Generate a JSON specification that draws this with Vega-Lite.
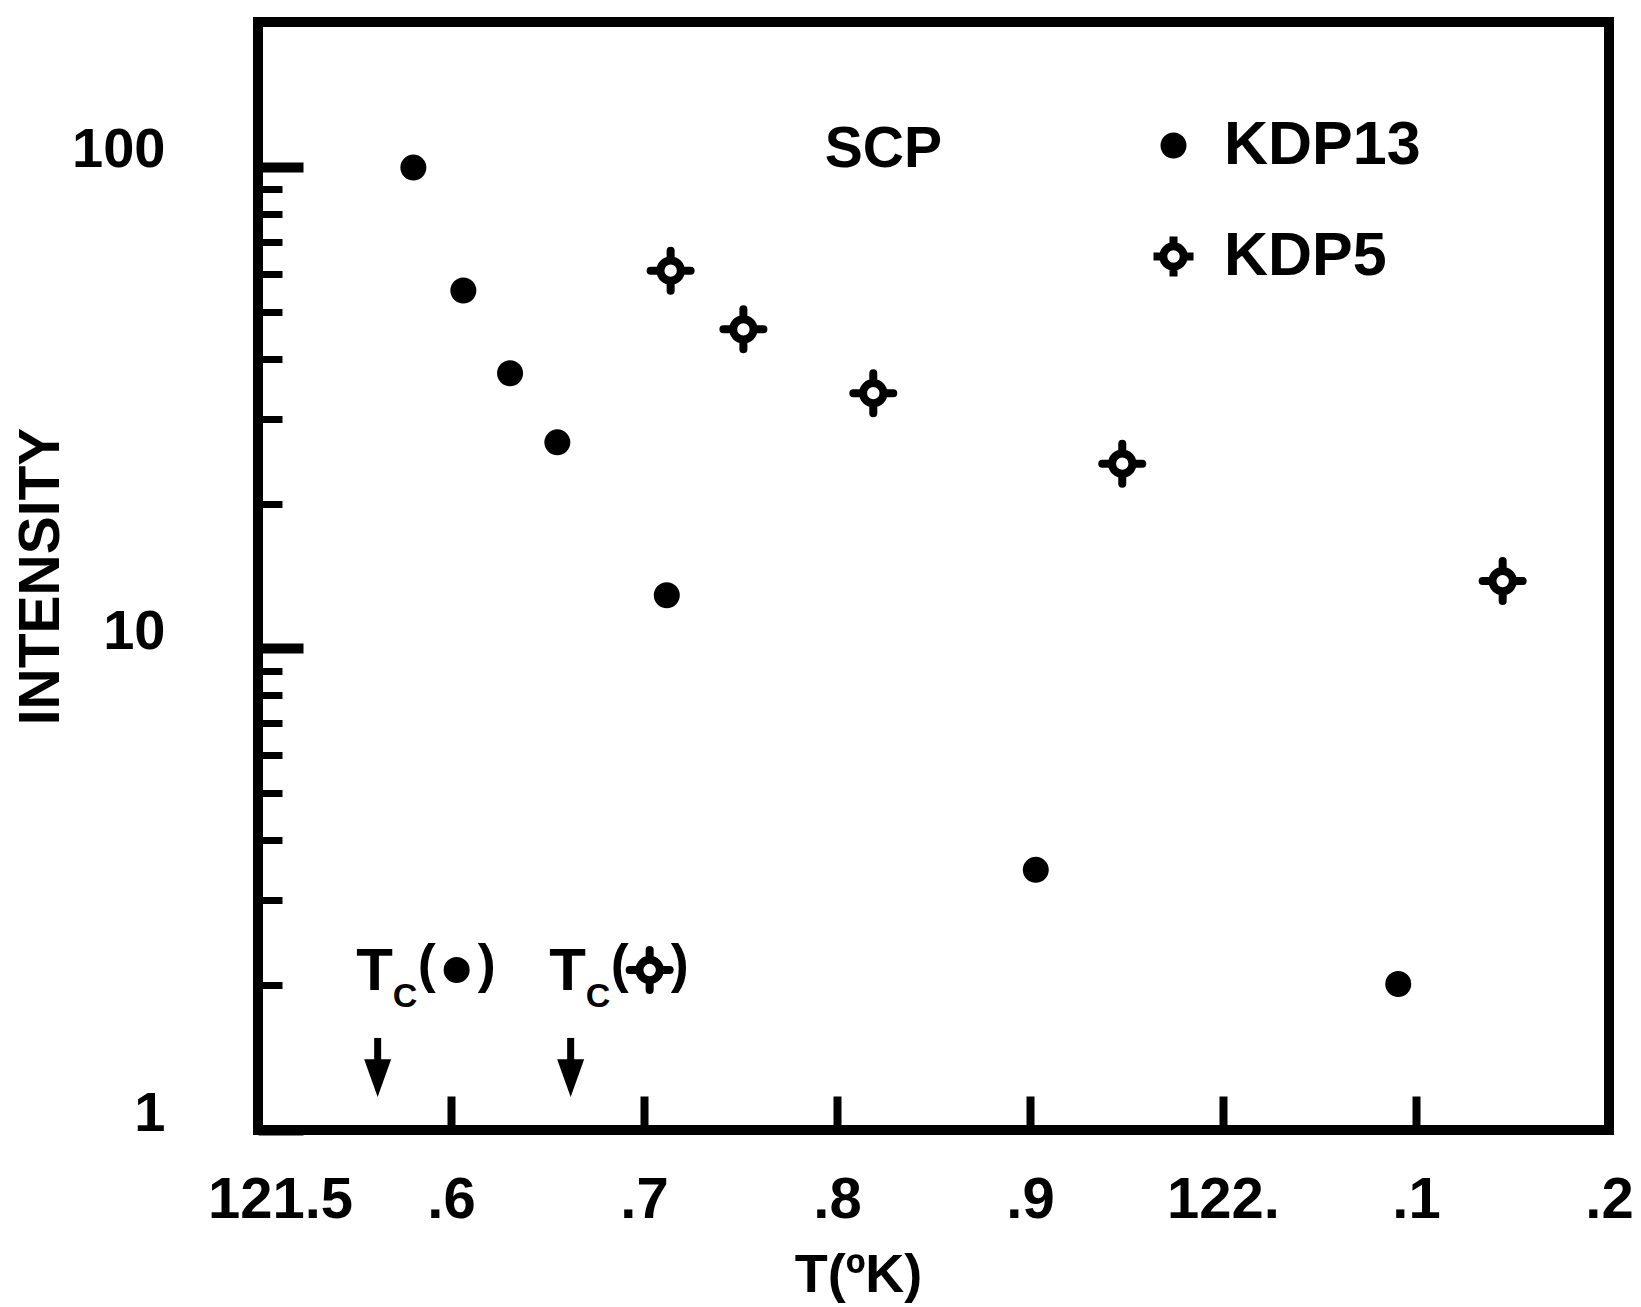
{
  "$schema": "https://vega.github.io/schema/vega-lite/v6.json",
  "width": 1351,
  "height": 1108,
  "autosize": {"type": "none"},
  "padding": {"left": 258, "top": 22, "right": 32, "bottom": 177},
  "background": "white",
  "config": {
    "view": {"stroke": "black", "strokeWidth": 10},
    "font": "Liberation Sans",
    "axis": {"domain": false, "grid": false, "tickColor": "black", "labelColor": "black", "titleColor": "black"}
  },
  "datasets": {
    "intensity": [
      {"sample": "KDP13", "t": 121.5805, "intensity": 99.7},
      {"sample": "KDP13", "t": 121.6064, "intensity": 55.4},
      {"sample": "KDP13", "t": 121.6306, "intensity": 37.3},
      {"sample": "KDP13", "t": 121.6551, "intensity": 26.8},
      {"sample": "KDP13", "t": 121.7118, "intensity": 12.9},
      {"sample": "KDP13", "t": 121.903, "intensity": 3.47},
      {"sample": "KDP13", "t": 122.0908, "intensity": 2.01},
      {"sample": "KDP5", "t": 121.7138, "intensity": 60.9},
      {"sample": "KDP5", "t": 121.7515, "intensity": 46.0},
      {"sample": "KDP5", "t": 121.8188, "intensity": 33.9},
      {"sample": "KDP5", "t": 121.9478, "intensity": 24.2},
      {"sample": "KDP5", "t": 122.1449, "intensity": 13.8}
    ],
    "transitions": [
      {"sample": "KDP13", "tc": 121.562},
      {"sample": "KDP5", "tc": 121.662}
    ],
    "notes": [
      {"label": "SCP", "t": 121.824, "intensity": 100}
    ]
  },
  "layer": [
    {
      "data": {"name": "intensity"},
      "mark": {"type": "point", "filled": true, "strokeWidth": 8, "strokeCap": "round", "size": 1600, "opacity": 1},
      "encoding": {
        "x": {
          "field": "t", "type": "quantitative",
          "scale": {"domain": [121.5, 122.2], "nice": false, "zero": false},
          "axis": {
            "title": "T(ºK)",
            "values": [121.5, 121.6, 121.7, 121.8, 121.9, 122.0, 122.1, 122.2],
            "tickSize": -34, "tickWidth": 8,
            "labelExpr": "datum.value < 121.55 ? '121.5' : (abs(datum.value - 122) < 0.001 ? '122.' : substring(format(datum.value, '.1f'), 3))",
            "labelFont": "Liberation Sans",
            "labelFontSize": 58, "labelFontWeight": "bold",
            "labelBaseline": "top", "labelPadding": 75, "labelLimit": 0,
            "labelOffset": {"condition": {"test": "datum.value < 121.55", "value": 22}, "value": 0},
            "labelFlush": false, "labelOverlap": false, "labelBound": false,
            "titleFont": "Liberation Sans",
            "titleFontSize": 54, "titleFontWeight": "bold",
            "titleX": 600, "titleY": 161, "titleAlign": "center", "titleBaseline": "alphabetic"
          }
        },
        "y": {
          "field": "intensity", "type": "quantitative",
          "scale": {"type": "log", "domain": [1, 200], "nice": false},
          "axis": {
            "title": "INTENSITY",
            "values": [1, 2, 3, 4, 5, 6, 7, 8, 9, 10, 20, 30, 40, 50, 60, 70, 80, 90, 100],
            "tickSize": {"condition": {"test": "datum.value == 1 || datum.value == 10 || datum.value == 100", "value": -45}, "value": -24},
            "tickWidth": {"condition": {"test": "datum.value == 1 || datum.value == 10 || datum.value == 100", "value": 10}, "value": 7},
            "labelExpr": "datum.value == 1 || datum.value == 10 || datum.value == 100 ? format(datum.value, 'd') : ''",
            "labelFont": "Liberation Sans",
            "labelFontSize": 56, "labelFontWeight": "bold", "labelLimit": 0,
            "labelBaseline": "alphabetic", "labelPadding": 138,
            "labelOverlap": false, "labelBound": false, "labelFlush": false,
            "titleFont": "Liberation Sans", "titleFontSize": 57, "titleFontWeight": "bold",
            "titleAngle": 270, "titleX": -217, "titleY": 554, "titleAlign": "center", "titleBaseline": "middle"
          }
        },
        "shape": {
          "field": "sample", "type": "nominal",
          "scale": {
            "domain": ["KDP13", "KDP5"],
            "range": [
              "M0.45,0A0.45,0.45,0,1,1,-0.45,0A0.45,0.45,0,1,1,0.45,0Z",
              "M0.51,0A0.51,0.51,0,1,1,-0.51,0A0.51,0.51,0,1,1,0.51,0ZM0,-0.51L0,-1M0,0.51L0,1M-0.51,0L-1,0M0.51,0L1,0"
            ]
          },
          "legend": {
            "title": null, "orient": "none", "legendX": 885, "legendY": 93, "direction": "vertical",
            "labelFont": "Liberation Sans", "labelFontSize": 61, "labelFontWeight": "bold", "labelColor": "black",
            "labelOffset": 20, "rowPadding": 44, "symbolSize": 1600, "labelLimit": 0,
            "symbolStrokeWidth": 8, "symbolOpacity": 1
          }
        },
        "fill": {
          "field": "sample", "type": "nominal",
          "scale": {"domain": ["KDP13", "KDP5"], "range": ["black", "transparent"]},
          "legend": {
            "title": null, "orient": "none", "legendX": 885, "legendY": 93, "direction": "vertical",
            "labelFont": "Liberation Sans", "labelFontSize": 61, "labelFontWeight": "bold", "labelColor": "black",
            "labelOffset": 20, "rowPadding": 44, "symbolSize": 1600, "labelLimit": 0,
            "symbolStrokeWidth": 8, "symbolOpacity": 1
          }
        },
        "stroke": {
          "field": "sample", "type": "nominal",
          "scale": {"domain": ["KDP13", "KDP5"], "range": ["black", "black"]},
          "legend": {
            "title": null, "orient": "none", "legendX": 885, "legendY": 93, "direction": "vertical",
            "labelFont": "Liberation Sans", "labelFontSize": 61, "labelFontWeight": "bold", "labelColor": "black",
            "labelOffset": 20, "rowPadding": 44, "symbolSize": 1600, "labelLimit": 0,
            "symbolStrokeWidth": 8, "symbolOpacity": 1
          }
        }
      }
    },
    {
      "data": {"name": "transitions"},
      "mark": {"type": "rule", "strokeWidth": 7, "color": "black"},
      "encoding": {
        "x": {"field": "tc", "type": "quantitative"},
        "y": {"datum": 1.553},
        "y2": {"datum": 1.332}
      }
    },
    {
      "data": {"name": "transitions"},
      "mark": {"type": "point", "shape": "M-0.5,-0.7L0.5,-0.7L0,0.7Z", "size": 2916, "filled": true, "color": "black", "opacity": 1},
      "encoding": {
        "x": {"field": "tc", "type": "quantitative"},
        "y": {"datum": 1.282}
      }
    },
    {
      "data": {"name": "transitions"},
      "mark": {"type": "text", "text": "T", "font": "Liberation Sans", "fontSize": 60, "fontWeight": "bold", "align": "center", "baseline": "alphabetic", "dx": -3, "dy": 5, "color": "black"},
      "encoding": {
        "x": {"field": "tc", "type": "quantitative"},
        "y": {"datum": 2}
      }
    },
    {
      "data": {"name": "transitions"},
      "mark": {"type": "text", "text": "C", "font": "Liberation Sans", "fontSize": 34, "fontWeight": "bold", "align": "left", "baseline": "alphabetic", "dx": 15, "dy": 22, "color": "black"},
      "encoding": {
        "x": {"field": "tc", "type": "quantitative"},
        "y": {"datum": 2}
      }
    },
    {
      "data": {"name": "transitions"},
      "mark": {"type": "text", "text": "(", "font": "Liberation Sans", "fontSize": 54, "fontWeight": "bold", "align": "right", "baseline": "alphabetic", "dx": 58, "dy": -3, "color": "black"},
      "encoding": {
        "x": {"field": "tc", "type": "quantitative"},
        "y": {"datum": 2}
      }
    },
    {
      "data": {"name": "transitions"},
      "mark": {"type": "text", "text": ")", "font": "Liberation Sans", "fontSize": 54, "fontWeight": "bold", "align": "left", "baseline": "alphabetic", "dx": 100, "dy": -3, "color": "black"},
      "encoding": {
        "x": {"field": "tc", "type": "quantitative"},
        "y": {"datum": 2}
      }
    },
    {
      "data": {"name": "transitions"},
      "mark": {"type": "point", "filled": true, "strokeWidth": 8, "strokeCap": "round", "size": 1600, "opacity": 1, "xOffset": 79, "yOffset": -15},
      "encoding": {
        "x": {"field": "tc", "type": "quantitative"},
        "y": {"datum": 2},
        "shape": {"field": "sample", "type": "nominal"},
        "fill": {"field": "sample", "type": "nominal"},
        "stroke": {"field": "sample", "type": "nominal"}
      }
    },
    {
      "data": {"name": "notes"},
      "mark": {"type": "text", "font": "Liberation Sans", "fontSize": 57, "fontWeight": "bold", "align": "center", "baseline": "alphabetic", "color": "black"},
      "encoding": {
        "x": {"field": "t", "type": "quantitative"},
        "y": {"field": "intensity", "type": "quantitative"},
        "text": {"field": "label"}
      }
    }
  ]
}
